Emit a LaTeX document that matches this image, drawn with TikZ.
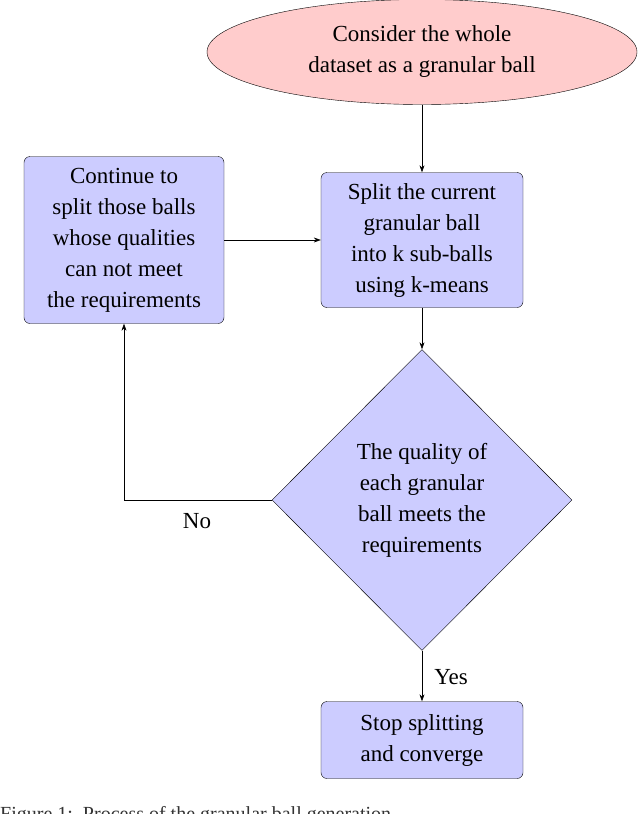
\documentclass[tikz,border=0pt]{standalone}
\usepackage{fontspec}
\setmainfont{Liberation Serif}
\usetikzlibrary{shapes.geometric,arrows.meta}
\begin{document}
\begin{tikzpicture}[x=1pt,y=1pt,
  box/.style={draw,rounded corners=6pt,fill=blue!20,align=center,font=\fontsize{23}{31}\selectfont,inner sep=0pt},
  lab/.style={font=\fontsize{23}{31}\selectfont},
  arr/.style={-{Stealth[length=7pt,width=5pt]},line width=0.6pt}]
\clip (0,0) rectangle (640,-814);
\useasboundingbox (0,0) rectangle (640,-814);
\node[ellipse,draw,fill=red!20,minimum width=430,minimum height=105,align=center,font=\fontsize{23}{31}\selectfont,inner sep=0pt] (start) at (422,-52) {Consider the whole\\dataset as a granular ball};
\node[box,minimum width=202,minimum height=135] (split) at (422,-240) {Split the current\\granular ball\\into k sub-balls\\using k-means};
\node[box,minimum width=200,minimum height=167] (cont) at (124,-240) {Continue to\\split those balls\\whose qualities\\can not meet\\the requirements};
\node[diamond,draw,fill=blue!20,minimum width=300,minimum height=301,align=center,font=\fontsize{23}{31}\selectfont,inner sep=0pt] (dec) at (422,-500) {The quality of\\each granular\\ball meets the\\requirements};
\node[box,minimum width=202,minimum height=77] (stop) at (422,-740) {Stop splitting\\and converge};
\coordinate (corner) at (124,-500);
\draw[arr] (start) -- (split);
\draw[arr] (cont) -- (split);
\draw[arr] (split) -- (dec);
\draw[arr] (dec.west) -- (corner) -- (cont.south);
\draw[arr] (dec.south) -- (stop);
\node[lab] (no) at (197,-521) {No};
\node[lab] (yes) at (451,-677) {Yes};
\node[anchor=north west,font=\fontsize{20}{22}\selectfont,inner sep=0pt,text=black!80] (cap) at (0,-806) {Figure 1:\ \ Process of the granular ball generation.};
\end{tikzpicture}
\end{document}
